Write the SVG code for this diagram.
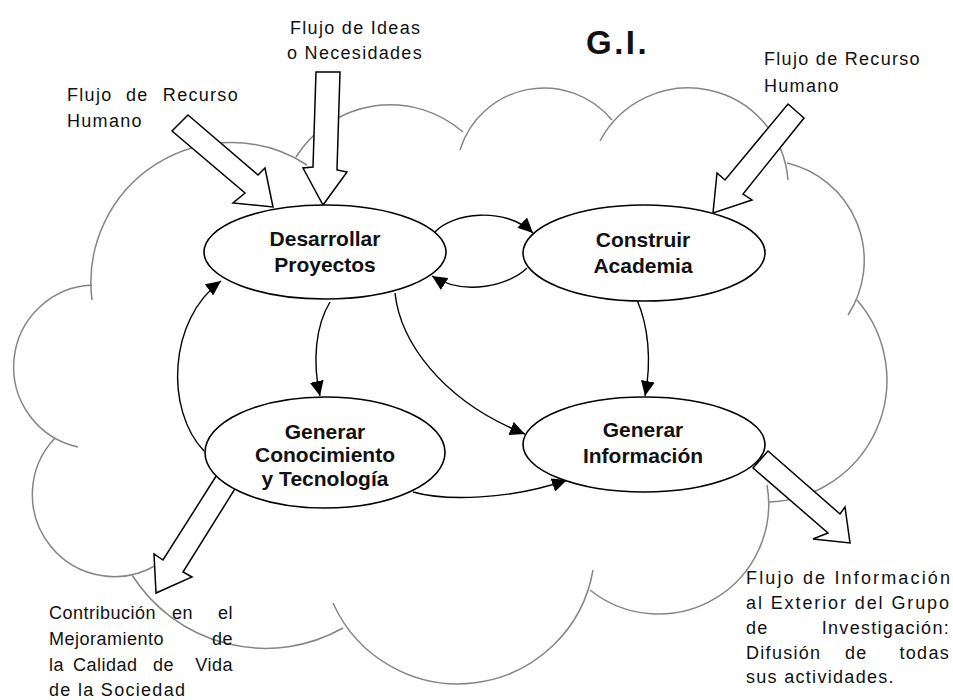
<svg xmlns="http://www.w3.org/2000/svg" width="953" height="700" viewBox="0 0 953 700">
  <defs>
    <marker id="ah" markerWidth="16" markerHeight="14" refX="15" refY="7" orient="auto" markerUnits="userSpaceOnUse">
      <path d="M0,0 L15,7 L0,14 Z" fill="#000"/>
    </marker>
    <style>
      .cloud { fill: none; stroke: #858585; stroke-width: 1.5; }
      .flow { fill: #fff; stroke: #000; stroke-width: 1.5; stroke-linejoin: miter; }
      .link { fill: none; stroke: #000; stroke-width: 1.4; marker-end: url(#ah); }
      .node ellipse { fill: #fff; stroke: #000; stroke-width: 1.6; }
      .node text { font-family: "Liberation Sans", Arial, sans-serif; font-weight: bold; font-size: 21px; fill: #111; text-anchor: middle; }
      .lbl { font-family: "Liberation Sans", Arial, sans-serif; font-size: 18px; fill: #111; letter-spacing: 1.3px; }
      .tight { letter-spacing: 0.5px; }
      .fit { letter-spacing: 0; }
      .end { text-anchor: end; }
      .title { font-family: "Liberation Sans", Arial, sans-serif; font-weight: bold; font-size: 33px; letter-spacing: 2.5px; fill: #111; }
    </style>
  </defs>

  <rect width="953" height="700" fill="#fff"/>

  <!-- cloud outline: one circular arc per lobe -->
  <g id="cloud">
    <path class="cloud" d="M92,300 A140,140 0 0 1 307,165"/>
    <path class="cloud" d="M296,157 A111,111 0 0 1 463,132"/>
    <path class="cloud" d="M460,150 A88,88 0 0 1 612,120"/>
    <path class="cloud" d="M600,141 A100,100 0 0 1 788,180"/>
    <path class="cloud" d="M787,163 A100,100 0 0 1 848,315"/>
    <path class="cloud" d="M857,300 A122,122 0 0 1 768,502"/>
    <path class="cloud" d="M767,485 A110,110 0 0 1 590,590"/>
    <path class="cloud" d="M593,570 A137,137 0 0 1 333,603"/>
    <path class="cloud" d="M343,628 A158,158 0 0 1 132,575"/>
    <path class="cloud" d="M158,564 A82,82 0 0 1 55,438"/>
    <path class="cloud" d="M78,447 A82,82 0 0 1 92,285"/>
  </g>

  <!-- block arrows: flows in and out of the group -->
  <g id="flows">
    <polygon class="flow" points="188,115 258,175 265,168 273,207 233,203 245,193 172,131"/>
    <polygon class="flow" points="316,72 340,72 337,170 347,172 323,205 303,168 313,167"/>
    <polygon class="flow" points="788,104 804,118 743,194 752,200 713,213 717,173 725,180"/>
    <polygon class="flow" points="220,470 163,560 154,554 156,593 192,577 183,572 238,484"/>
    <polygon class="flow" points="768,451 840,514 845,507 850,543 813,539 828,533 753,468"/>
  </g>

  <!-- connectors between activities -->
  <g id="connectors">
    <path class="link" d="M435,232 C452,213 505,206 533,233"/>
    <path class="link" d="M527,268 C510,285 465,297 432,276"/>
    <path class="link" d="M330,302 C316,325 312,360 320,396"/>
    <path class="link" d="M395,293 C400,340 440,400 525,434"/>
    <path class="link" d="M637,300 C648,325 652,360 645,396"/>
    <path class="link" d="M204,451 C165,410 168,320 221,281"/>
    <path class="link" d="M413,492 C445,501 510,500 567,480"/>
  </g>

  <g id="desarrollar" class="node">
    <ellipse cx="325" cy="252" rx="121" ry="47"/>
    <text x="325" y="246">Desarrollar</text>
    <text x="325" y="272">Proyectos</text>
  </g>

  <g id="construir" class="node">
    <ellipse cx="644" cy="253" rx="121" ry="48"/>
    <text x="643" y="247">Construir</text>
    <text x="643" y="273">Academia</text>
  </g>

  <g id="conocimiento" class="node">
    <ellipse cx="325" cy="452.5" rx="120" ry="55.5"/>
    <text x="325" y="439">Generar</text>
    <text x="325" y="462">Conocimiento</text>
    <text x="325" y="486">y Tecnología</text>
  </g>

  <g id="informacion" class="node">
    <ellipse cx="644" cy="444.5" rx="121" ry="47.5"/>
    <text x="643" y="437">Generar</text>
    <text x="643" y="463">Información</text>
  </g>

  <g id="title">
    <text class="title" x="586" y="54">G.I.</text>
  </g>

  <g id="label-ideas">
    <text class="lbl" x="290" y="34">Flujo de Ideas</text>
    <text class="lbl" x="287" y="59">o Necesidades</text>
  </g>

  <g id="label-rh-left">
    <text class="lbl" y="101"><tspan x="67">Flujo</tspan><tspan x="126">de</tspan></text>
    <text class="lbl end" x="239" y="101">Recurso</text>
    <text class="lbl" x="67" y="127">Humano</text>
  </g>

  <g id="label-rh-right">
    <text class="lbl" x="764" y="65">Flujo de Recurso</text>
    <text class="lbl" x="764" y="92">Humano</text>
  </g>

  <g id="label-sociedad">
    <text class="lbl tight" y="619"><tspan x="49">Contribución</tspan><tspan x="172">en</tspan></text>
    <text class="lbl tight end" x="233" y="619">el</text>
    <text class="lbl tight" x="49" y="645">Mejoramiento</text>
    <text class="lbl tight end" x="233" y="645">de</text>
    <text class="lbl tight" y="671"><tspan x="49">la</tspan><tspan x="73">Calidad</tspan><tspan x="153">de</tspan></text>
    <text class="lbl tight end" x="233" y="671">Vida</text>
    <text class="lbl" x="49" y="696">de la Sociedad</text>
  </g>

  <g id="label-difusion">
    <text class="lbl fit" x="746" y="584" textLength="204" lengthAdjust="spacing">Flujo de Información</text>
    <text class="lbl fit" x="746" y="609" textLength="203" lengthAdjust="spacing">al Exterior del Grupo</text>
    <text class="lbl" x="746" y="634">de</text>
    <text class="lbl end" x="950" y="634">Investigación:</text>
    <text class="lbl" x="746" y="659">Difusión</text>
    <text class="lbl" x="845" y="659">de</text>
    <text class="lbl end" x="950" y="659">todas</text>
    <text class="lbl" x="746" y="683">sus actividades.</text>
  </g>
</svg>
